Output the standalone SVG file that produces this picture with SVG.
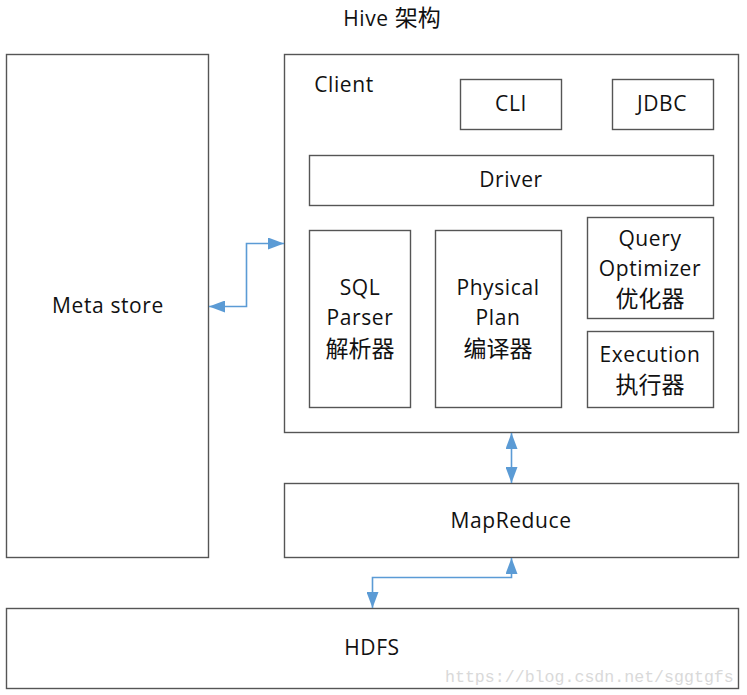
<svg xmlns="http://www.w3.org/2000/svg" width="747" height="695" viewBox="0 0 747 695">
<defs>
<style>
.box{fill:#fff;stroke:#555;stroke-width:1.4}
.t{font-family:"Open Sans","Noto Sans CJK SC",sans-serif;font-size:21px;letter-spacing:0.6px;fill:#111;text-anchor:middle}
.cjk{font-size:23px;letter-spacing:0}
.c{stroke:#5B9BD5;stroke-width:1.6;fill:none}
.wm{font-family:"Liberation Mono",monospace;font-size:16.6px;fill:#d9d9d9}
</style>
<marker id="ah" viewBox="0 0 16 12" refX="16" refY="6" markerWidth="16" markerHeight="12" markerUnits="userSpaceOnUse" orient="auto-start-reverse">
<path d="M0,0 L16,6 L0,12 Z" fill="#5B9BD5"/>
</marker>
</defs>
<rect width="747" height="695" fill="#fff"/>
<text class="t" x="392" y="26">Hive <tspan class="cjk">架构</tspan></text>
<g id="metastore"><rect class="box" x="6.5" y="54.5" width="202" height="503"/><text class="t" x="108" y="313">Meta store</text></g>
<g id="client"><rect class="box" x="284.5" y="54.5" width="454" height="378"/><text class="t" x="344" y="92">Client</text></g>
<g id="cli"><rect class="box" x="460.5" y="79.5" width="101" height="50"/><text class="t" x="511" y="111">CLI</text></g>
<g id="jdbc"><rect class="box" x="612.5" y="79.5" width="101" height="50"/><text class="t" x="662" y="111">JDBC</text></g>
<g id="driver"><rect class="box" x="309.5" y="155.5" width="404" height="50"/><text class="t" x="511" y="187">Driver</text></g>
<g id="sqlparser"><rect class="box" x="309.5" y="230.5" width="101" height="177"/><text class="t" x="360" y="295">SQL</text><text class="t" x="360" y="325">Parser</text><text class="t cjk" x="360" y="357">解析器</text></g>
<g id="physicalplan"><rect class="box" x="435.5" y="230.5" width="126" height="177"/><text class="t" x="498" y="295">Physical</text><text class="t" x="498" y="325">Plan</text><text class="t cjk" x="498" y="357">编译器</text></g>
<g id="optimizer"><rect class="box" x="587.5" y="217.5" width="126" height="101"/><text class="t" x="650" y="246">Query</text><text class="t" x="650" y="276">Optimizer</text><text class="t cjk" x="650" y="307">优化器</text></g>
<g id="execution"><rect class="box" x="587.5" y="331.5" width="126" height="76"/><text class="t" x="650" y="362">Execution</text><text class="t cjk" x="650" y="393">执行器</text></g>
<g id="mapreduce"><rect class="box" x="284.5" y="483.5" width="454" height="74"/><text class="t" x="511" y="528">MapReduce</text></g>
<g id="hdfs"><rect class="box" x="6.5" y="608.5" width="732" height="80"/><text class="t" x="372" y="655">HDFS</text></g>
<g id="connectors">
<path class="c" d="M209,306.5 H246.5 V243.5 H284" marker-start="url(#ah)" marker-end="url(#ah)"/>
<path class="c" d="M511.5,433 V483" marker-start="url(#ah)" marker-end="url(#ah)"/>
<path class="c" d="M511.5,558 V577.5 H372.5 V608" marker-start="url(#ah)" marker-end="url(#ah)"/>
</g>
<text class="wm" x="445" y="682">https://blog.csdn.net/sggtgfs</text>
</svg>
